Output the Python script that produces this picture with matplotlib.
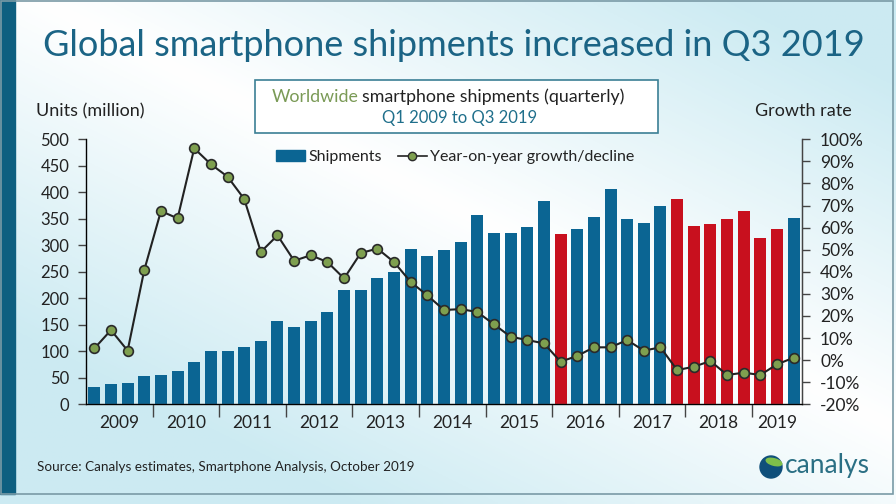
import numpy as np
import matplotlib
matplotlib.use("Agg")
import matplotlib.pyplot as plt
from matplotlib.patches import Rectangle, Circle, Ellipse, Patch
from matplotlib.lines import Line2D

plt.rcParams['font.family'] = ['Lato', 'DejaVu Sans']

# quarterly data, Q1 2009 .. Q3 2019
shipments = [32, 38, 41, 53, 55, 62, 80, 101,
             101, 108, 120, 158, 146, 158, 174, 216,
             216, 238, 250, 293, 279, 292, 307, 357,
             324, 324, 335, 383, 321, 330, 354, 406,
             349, 343, 375, 387, 337, 340, 349, 365,
             313, 331, 352]
growth = [5.3, 13.6, 4.3, 40.8, 67.5, 64.2, 95.9, 88.7,
          83.1, 73.0, 49.0, 56.5, 45.0, 47.5, 44.4, 37.0,
          48.5, 50.5, 44.4, 35.4, 29.3, 22.7, 23.1, 21.8,
          16.2, 10.6, 9.1, 7.6, -0.7, 1.9, 5.8, 5.8,
          9.1, 4.3, 5.8, -4.5, -3.0, -0.4, -6.7, -5.7,
          -6.7, -1.9, 1.1]
years = ["2009", "2010", "2011", "2012", "2013", "2014",
         "2015", "2016", "2017", "2018", "2019"]

blue = '#0b6593'
red = '#c8101e'
teal = '#1b6485'
dark = '#222222'

W, H = 896, 504
fig = plt.figure(figsize=(W / 100, H / 100), dpi=100)

# background
bg = fig.add_axes([0, 0, 1, 1], zorder=-10)
yy, xx = np.mgrid[0:1:200j, 0:1:360j]
d = np.abs((xx - 0.55) * 0.8 - (yy - 0.45) * 0.9)
grad = np.clip(d * 1.6, 0, 1)
c0 = np.array([1.0, 1.0, 1.0])
c1 = np.array([0.80, 0.92, 0.95])
img = c0[None, None, :] * (1 - grad[..., None]) + c1[None, None, :] * grad[..., None]
bg.imshow(img, extent=[0, W, 0, H], aspect='auto', origin='upper')
bg.add_patch(Rectangle((0, 10), 15, H - 10, color='#0e5f80'))
bg.add_patch(Rectangle((1, 10), W - 4, H - 11, fill=False, ec='#7a9aa6', lw=1.2))
bg.set_xlim(0, W)
bg.set_ylim(0, H)
bg.axis('off')

def fx(px):
    return px / W

def fy(py):
    return 1 - py / H

ax = fig.add_axes([fx(86), fy(404.3), fx(802) - fx(86), fy(139.3) - fy(404.3)])
ax.patch.set_alpha(0)

x = np.arange(len(shipments)) + 0.5
colors = [red if g < 0 else blue for g in growth]
ax.bar(x, shipments, width=0.72, color=colors, zorder=2)
ax.set_xlim(0, len(shipments))
ax.set_ylim(0, 500)
ax.set_yticks(np.arange(0, 501, 50))
ax.tick_params(axis='y', direction='out', length=6, width=1, color='#444444',
               labelsize=12, labelcolor=dark, pad=6)

ax.set_xticks(np.arange(4, 41, 4))
ax.set_xticklabels([])
ax.tick_params(axis='x', which='major', direction='out', length=9, width=1,
               color='#444444')
centers = [2 + 4 * i for i in range(10)] + [41.5]
ax.set_xticks(centers, minor=True)
ax.set_xticklabels(years, minor=True)
ax.tick_params(axis='x', which='minor', length=0, labelsize=12.5,
               labelcolor=dark, pad=8)

ax.spines['top'].set_visible(False)
for s in ['left', 'bottom', 'right']:
    ax.spines[s].set_color('#444444')
    ax.spines[s].set_linewidth(1)

ax2 = ax.twinx()
ax2.plot(x, growth, color=dark, lw=1.5, marker='o', ms=7,
         mfc='#7e9f4f', mec='#2a2a2a', mew=1.2, zorder=3)
ax2.set_ylim(-20, 100)
ax2.set_yticks(np.arange(-20, 101, 10))
ax2.set_yticklabels([f"{v}%" for v in range(-20, 101, 10)])
ax2.tick_params(axis='y', direction='out', length=6, width=1, color='#444444',
                labelsize=12.5, labelcolor=dark, pad=7)
ax2.spines['top'].set_visible(False)
ax2.spines['right'].set_color('#444444')

handles = [Patch(color=blue),
           Line2D([], [], color=dark, lw=1.2, marker='o', ms=6,
                  mfc='#7e9f4f', mec='#2a2a2a')]
leg = ax2.legend(handles, ["Shipments", "Year-on-year growth/decline"],
                 loc='center left', bbox_to_anchor=((270 - 86) / 716, (404.3 - 157) / 265),
                 ncol=2, frameon=False, fontsize=11.5, handlelength=1.8,
                 handletextpad=0.2, columnspacing=1.0, borderaxespad=0)
for t in leg.get_texts():
    t.set_color(dark)

# texts
fig.text(fx(454), fy(46), "Global smartphone shipments increased in Q3 2019",
         ha='center', va='center', fontsize=26, color=teal)
fig.text(fx(36), fy(111), "Units (million)", ha='left', va='center',
         fontsize=13, color=dark)
fig.text(fx(755), fy(111), "Growth rate", ha='left', va='center',
         fontsize=13, color=dark)

bg.add_patch(Rectangle((255, H - 133), 403, 53, fc='white', ec='#3b7f95', lw=1.2))
t1 = fig.text(fx(272), fy(97), "Worldwide", ha='left', va='center',
              fontsize=12.8, color='#7a9a56')
fig.canvas.draw()
bb = t1.get_window_extent()
fig.text(bb.x1 / W + 0.004, fy(97), "smartphone shipments (quarterly)", ha='left',
         va='center', fontsize=12.8, color=dark)
fig.text(fx(460), fy(118), "Q1 2009 to Q3 2019", ha='center', va='center',
         fontsize=12, color='#1f6f8b')

fig.text(fx(37), fy(467), "Source: Canalys estimates, Smartphone Analysis, October 2019",
         ha='left', va='center', fontsize=9.7, color=dark)

# logo
bg.add_patch(Circle((771, H - 467), 11, color='#0f4f7a', zorder=3))
bg.add_patch(Ellipse((774, H - 462), 16, 6.5, angle=-15, color='#7fbf4a', zorder=4))
fig.text(fx(785), fy(466), "canalys", ha='left', va='center', fontsize=19,
         color='#2a6f84')

fig.savefig("out.png", dpi=100)
